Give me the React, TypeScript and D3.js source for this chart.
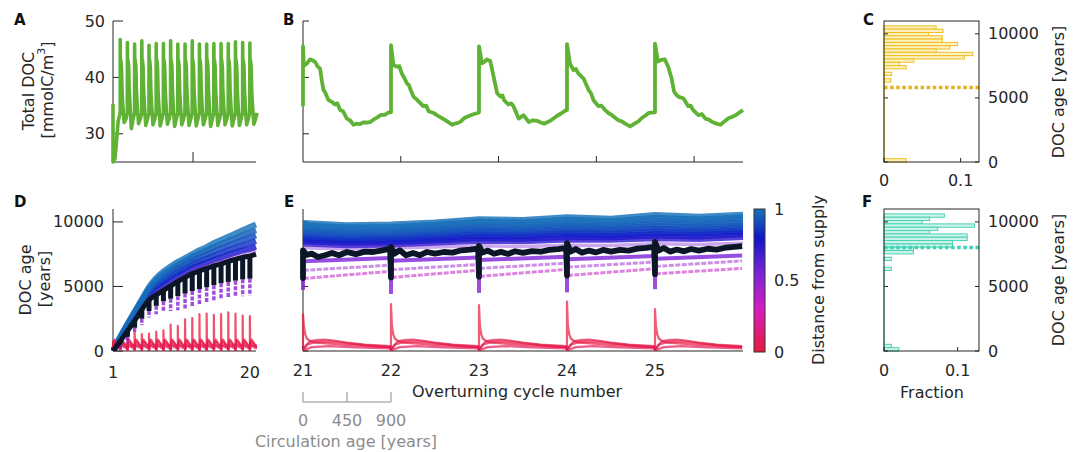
import React from "react";
import * as d3 from "d3";

type Pt = [number, number];

// ---------------- data ----------------
const CYCLE_YEARS = 900;

// Panel A : total DOC, spin-up cycles 1-20 (years)
const A_SPINUP_YEARS = [0, 0, 250, 650, 900];
const A_SPINUP_DOC = [35.3, 25.0, 25.6, 32.3, 33.7];
const A_PEAKS = [46.7, 46.2, 45.9, 46.5, 45.7, 46.0, 46.0, 46.5, 45.9, 45.9, 46.5, 45.9, 45.9, 46.0, 46.0, 46.0, 46.3, 46.2, 46.1];
const A_TROUGHS = [32.0, 30.9, 31.8, 31.5, 31.6, 31.4, 31.7, 31.3, 31.6, 31.5, 31.4, 31.6, 31.3, 31.5, 31.6, 31.4, 31.5, 31.6, 31.7];
const CYCLE_PHASE = [0.02, 0.08, 0.18, 0.25, 0.35, 0.55, 0.78, 0.99];
const CYCLE_DOC = [42.0, 43.1, 41.8, 37.8, 35.3, 31.6, 32.6, 33.7];
const TROUGH_INDEX = 5;

// Panel B : total DOC, cycles 21-25 (years since cycle 21)
const B_YEARS = [
  0, 0, 8, 37, 72, 103, 130, 147, 175, 192, 209, 225, 240, 260, 280, 300, 328, 350, 380, 410, 448, 480, 517, 545, 580, 615, 654, 690, 720, 760, 790, 840, 876,
  900, 900, 925, 960, 985, 1010, 1030, 1065, 1085, 1100, 1130, 1155, 1180, 1230, 1260, 1285, 1335, 1360, 1390, 1430, 1475, 1525, 1550, 1580, 1615, 1650, 1715, 1750, 1785,
  1800, 1800, 1830, 1860, 1880, 1915, 1950, 1985, 2020, 2040, 2055, 2100, 2130, 2155, 2205, 2230, 2255, 2310, 2350, 2395, 2430, 2465, 2530, 2600, 2640, 2690,
  2700, 2700, 2730, 2765, 2790, 2815, 2870, 2920, 2945, 2970, 3020, 3050, 3090, 3130, 3160, 3225, 3260, 3295, 3345, 3400, 3430, 3465, 3500, 3535, 3595,
  3600, 3600, 3630, 3665, 3700, 3735, 3770, 3795, 3820, 3850, 3890, 3940, 3965, 3990, 4045, 4080, 4115, 4150, 4185, 4230, 4270, 4310, 4355, 4390, 4425, 4465, 4500,
];
const B_DOC = [
  34.9, 45.5, 42.0, 42.4, 43.2, 43.0, 42.6, 42.0, 41.5, 39.5, 37.8, 37.4, 36.8, 36.0, 35.8, 35.6, 35.2, 35.4, 34.2, 34.0, 32.7, 32.4, 31.6, 31.8, 31.7, 32.0, 32.0, 32.1, 32.5, 32.9, 33.3, 33.4, 33.8,
  33.8, 45.7, 42.2, 41.9, 42.0, 40.7, 40.1, 38.9, 38.6, 37.8, 36.6, 36.2, 35.8, 34.9, 35.0, 34.0, 33.7, 33.4, 33.1, 32.7, 32.2, 31.6, 31.8, 31.9, 32.2, 32.8, 33.3, 33.5, 33.7,
  33.8, 45.5, 42.5, 42.8, 43.2, 42.9, 40.1, 37.2, 36.6, 36.8, 36.0, 35.2, 35.4, 34.8, 32.7, 33.0, 33.3, 32.1, 32.4, 32.3, 32.0, 31.8, 32.3, 33.2, 33.6, 34.2,
  34.2, 45.9, 42.5, 41.3, 41.5, 40.7, 39.8, 37.8, 37.2, 36.0, 34.9, 35.0, 34.2, 33.6, 33.3, 32.4, 32.2, 31.8, 31.3, 31.9, 32.2, 32.8, 33.2, 33.7, 33.8,
  33.8, 46.0, 42.8, 43.1, 43.2, 41.9, 39.8, 37.5, 36.9, 36.5, 36.3, 34.9, 35.0, 34.2, 33.3, 33.5, 32.7, 32.5, 32.1, 31.8, 31.6, 32.2, 32.8, 33.0, 33.3, 33.8, 34.2,
];

// Panels C and F : histograms of DOC age (bin lower edge, fraction)
const BIN_WIDTH = 258;
const C_BIN_LOW = [10362, 10104, 9846, 9588, 9330, 9072, 8814, 8556, 8298, 8040, 7782, 7524, 7266, 6750, 6234, 0];
const C_FRACTION = [0.068, 0.077, 0.058, 0.076, 0.076, 0.096, 0.086, 0.068, 0.116, 0.105, 0.039, 0.020, 0.029, 0.010, 0.009, 0.029];
const C_MEAN_AGE = 5820;
const F_BIN_LOW = [10362, 10104, 9846, 9588, 9330, 9072, 8814, 8556, 8298, 8040, 7782, 7524, 7008, 6234, 258, 0];
const F_FRACTION = [0.082, 0.062, 0.052, 0.123, 0.073, 0.062, 0.113, 0.113, 0.093, 0.093, 0.040, 0.040, 0.010, 0.010, 0.010, 0.020];
const F_MEAN_AGE = 8010;

// Panel D : DOC age during spin-up (cycle number)
const D_N = [1, 2, 3, 4, 5, 6, 7, 8, 9, 10, 11, 12, 13, 14, 15, 16, 17, 18, 19, 20, 20.85];
const D_AGE_D100 = [0, 1100, 2100, 3050, 4000, 4950, 5650, 6150, 6550, 6900, 7200, 7500, 7800, 8050, 8350, 8600, 8850, 9100, 9350, 9600, 9800];
const D_AGE_D093 = [0, 1060, 2050, 2970, 3920, 4820, 5460, 5940, 6320, 6680, 6980, 7280, 7540, 7780, 8050, 8280, 8520, 8740, 8960, 9180, 9360];
const D_AGE_D085 = [0, 1010, 1960, 2860, 3780, 4640, 5220, 5660, 6040, 6400, 6700, 7000, 7250, 7480, 7730, 7950, 8170, 8380, 8590, 8770, 8950];
const D_AGE_D076 = [0, 950, 1870, 2730, 3630, 4460, 4980, 5390, 5760, 6110, 6420, 6720, 6950, 7170, 7400, 7600, 7810, 8000, 8190, 8350, 8520];
const D_AGE_D065 = [0, 890, 1770, 2610, 3480, 4270, 4740, 5120, 5480, 5830, 6130, 6430, 6650, 6860, 7070, 7240, 7450, 7620, 7790, 7920, 8080];
const D_AGE_D052 = [0, 840, 1690, 2510, 3370, 4130, 4560, 4920, 5270, 5620, 5920, 6220, 6430, 6640, 6840, 7000, 7200, 7360, 7520, 7630, 7780];
const D_BLACK_TOP = [0, 750, 1550, 2350, 3200, 3950, 4350, 4700, 5050, 5400, 5700, 6000, 6200, 6400, 6600, 6750, 6950, 7100, 7250, 7350, 7500];
const D_DROP_N = [2, 3, 4, 5, 6, 7, 8, 9, 10, 11, 12, 13, 14, 15, 16, 17, 18, 19, 20];
const D_BLACK_LOW = [500, 1100, 1800, 2500, 3100, 3500, 3850, 4050, 4250, 4450, 4650, 4800, 4950, 5100, 5250, 5350, 5450, 5550, 5600];
const D_PURPLE_LOW = [200, 600, 1450, 2000, 2600, 2850, 3000, 3100, 3150, 3300, 3450, 3600, 3750, 3900, 4000, 4100, 4200, 4250, 4300];
const D_RED_N = [1, 2, 3, 4, 5, 6, 7, 8, 9, 10, 11, 12, 13, 14, 15, 16, 17, 18, 19, 20];
const D_RED_PEAK = [0, 700, 1200, 1500, 1300, 1350, 1500, 1600, 2050, 1950, 2450, 2550, 2850, 2900, 2800, 2850, 3000, 2900, 2750, 2700];

// Panel E : DOC age in cycles 21-26
const E_X = [21, 21.5, 22, 22.5, 23, 23.5, 24, 24.5, 25, 25.5, 26];
const E_AGE_D100 = [9960, 9780, 9830, 10000, 10250, 10180, 10400, 10280, 10580, 10430, 10600];
const E_AGE_D097 = [9780, 9600, 9650, 9820, 10050, 9990, 10200, 10090, 10370, 10230, 10400];
const E_AGE_D094 = [9590, 9420, 9470, 9640, 9860, 9800, 10000, 9900, 10160, 10030, 10200];
const E_AGE_D091 = [9400, 9240, 9290, 9450, 9660, 9610, 9800, 9710, 9950, 9830, 10000];
const E_AGE_D088 = [9210, 9060, 9110, 9270, 9470, 9420, 9600, 9520, 9740, 9630, 9800];
const E_AGE_D084 = [9030, 8880, 8930, 9080, 9270, 9230, 9400, 9330, 9530, 9430, 9600];
const E_AGE_D080 = [8840, 8700, 8750, 8900, 9080, 9040, 9200, 9140, 9320, 9240, 9400];
const E_AGE_D075 = [8650, 8520, 8570, 8720, 8880, 8850, 9000, 8950, 9110, 9040, 9200];
const E_AGE_D068 = [8460, 8340, 8390, 8530, 8690, 8660, 8800, 8760, 8900, 8840, 9000];
const E_AGE_D060 = [8280, 8160, 8210, 8350, 8500, 8470, 8600, 8570, 8690, 8640, 8800];
const E_AGE_D052 = [8000, 7900, 7980, 8050, 8150, 8100, 8200, 8180, 8300, 8250, 8350];
const E_CYCLES = [21, 22, 23, 24, 25];
const E_PH = [0, 0.04, 0.1, 0.17, 0.25, 0.33, 0.41, 0.5, 0.6, 0.7, 0.8, 0.9, 0.99];
const E_BLACK_21 = [7800, 7450, 7540, 7280, 7420, 7600, 7420, 7670, 7500, 7700, 7670, 7800, 7930];
const E_BLACK_22 = [8060, 7540, 7800, 7420, 7600, 7420, 7670, 7540, 7670, 7620, 7800, 7850, 7930];
const E_BLACK_23 = [8150, 7620, 7780, 7530, 7680, 7520, 7730, 7600, 7740, 7690, 7840, 7900, 7990];
const E_BLACK_24 = [8350, 7700, 7900, 7620, 7780, 7640, 7830, 7700, 7840, 7780, 7930, 7990, 8060];
const E_BLACK_25 = [8450, 7780, 7980, 7700, 7860, 7720, 7900, 7780, 7920, 7860, 8000, 8060, 8120];
const E_BLACK_DROP = [5650, 5700, 5760, 5850, 5950];
const E_PURPLE_DROP = [4730, 4420, 4500, 4540, 4790];
const E_P1_START = [6950, 7000, 7050, 7100, 7150];
const E_P1_END = [7200, 7250, 7300, 7350, 7400];
const E_P2_START = [6250, 6300, 6400, 6500, 6550];
const E_P2_END = [6650, 6700, 6800, 6890, 6980];
const E_P3_START = [5620, 5700, 5780, 5850, 5980];
const E_P3_END = [6170, 6250, 6320, 6370, 6400];
const E_RED_PEAK = [2860, 3640, 3560, 3820, 3250];

// red (near-supply) line shapes within one cycle
const RED_SPIKE_BASE = 130;
const RED_SPIKE_PH = [0.01, 0.025, 0.045, 0.08, 0.15, 0.3, 0.5, 0.75, 0.99];
const RED_SPIKE_AGE = [2000, 1300, 950, 780, 650, 560, 470, 380, 300];
const RED_SPIKE_D_PH = [0.04, 0.15, 0.5, 0.99];
const RED_SPIKE_D_AGE = [650, 520, 420, 320];
const RED_B_PH = [0, 0.03, 0.08, 0.15, 0.25, 0.35, 0.5, 0.7, 0.99];
const RED_B_AGE = [60, 400, 750, 850, 880, 800, 650, 500, 380];
const RED_C_PH = [0, 0.05, 0.12, 0.2, 0.35, 0.5, 0.7, 0.99];
const RED_C_AGE = [100, 500, 650, 720, 700, 600, 450, 300];
const RED_D_PH = [0, 0.1, 0.3, 0.6, 0.99];
const RED_D_AGE = [40, 300, 380, 280, 200];

// ticks
const DOC_TICKS = [30, 40, 50];
const A_XTICKS = [10000];
const B_XTICKS = [1000, 2000, 3000, 4000];
const AGE_TICKS = [0, 5000, 10000];
const D_XTICKS = [1, 20];
const E_XTICKS = [21, 22, 23, 24, 25];
const FRAC_TICKS = [0, 0.1];
const CBAR_TICKS = [0, 0.5, 1];
const CIRC_TICKS = [0, 450, 900];

// ---------------- drawing ----------------
const W = 1077;
const H = 452;
const INK = "#262626";
const GREEN = "#5fb233";
const BLACKLINE = "#0b1626";

const distColor = d3
  .scaleLinear<string>()
  .domain([0, 0.3, 0.55, 0.8, 0.88, 1])
  .range(["#e8193c", "#d81cc0", "#7c22d8", "#0d18c8", "#1040c0", "#1670b8"])
  .interpolate(d3.interpolateRgb);

function cyc(x0: number, ph: number[], vals: number[]): Pt[] {
  return ph.map((p, j) => [x0 + p, vals[j]] as Pt);
}

export default function App() {
  const xA = d3.scaleLinear().domain([0, 17865]).range([113, 256]);
  const yDoc = d3.scaleLinear().domain([25, 50]).range([162, 21]);
  const xB = d3.scaleLinear().domain([0, 4500]).range([303, 743]);
  const yAgeTop = d3.scaleLinear().domain([0, 11000]).range([162, 21]);
  const xC = d3.scaleLinear().domain([0, 0.124]).range([884, 979]);
  const xD = d3.scaleLinear().domain([1, 20.85]).range([113, 256]);
  const yAge = d3.scaleLinear().domain([0, 11000]).range([351, 209]);
  const xE = d3.scaleLinear().domain([21, 26]).range([303, 743]);
  const xF = d3.scaleLinear().domain([0, 0.129]).range([884, 979]);
  const yCbar = d3.scaleLinear().domain([0, 1]).range([352, 209]);

  const mk = (sx: any, sy: any, curve: any = d3.curveLinear) =>
    d3.line<Pt>().x((d) => sx(d[0])).y((d) => sy(d[1])).curve(curve);

  // A
  const aPts: Pt[] = A_SPINUP_YEARS.map((t, i) => [t, A_SPINUP_DOC[i]] as Pt);
  A_PEAKS.forEach((pk, k) => {
    const t0 = (k + 1) * CYCLE_YEARS;
    aPts.push([t0, pk]);
    CYCLE_PHASE.forEach((ph, j) =>
      aPts.push([t0 + ph * CYCLE_YEARS, j === TROUGH_INDEX ? A_TROUGHS[k] : CYCLE_DOC[j]])
    );
  });
  const bPts: Pt[] = B_YEARS.map((t, i) => [t, B_DOC[i]] as Pt);

  // D
  const lineD = mk(xD, yAge, d3.curveMonotoneX);
  const lineDlin = mk(xD, yAge);
  const dBlue: { d: number; v: number[] }[] = [
    { d: 0.78, v: D_AGE_D065 },
    { d: 0.84, v: D_AGE_D076 },
    { d: 0.9, v: D_AGE_D085 },
    { d: 0.95, v: D_AGE_D093 },
    { d: 1.0, v: D_AGE_D100 },
  ];
  const dRed: Pt[][] = [[], [], [], []];
  D_RED_N.forEach((n, k) => {
    dRed[0].push([n, RED_SPIKE_BASE], [n, D_RED_PEAK[k]], ...cyc(n, RED_SPIKE_D_PH, RED_SPIKE_D_AGE));
    dRed[1].push(...cyc(n, RED_B_PH, RED_B_AGE));
    dRed[2].push(...cyc(n, RED_C_PH, RED_C_AGE));
    dRed[3].push(...cyc(n, RED_D_PH, RED_D_AGE));
  });

  // E
  const lineE = mk(xE, yAge);
  const eBlue: { d: number; v: number[] }[] = [
    { d: 0.72, v: E_AGE_D060 },
    { d: 0.76, v: E_AGE_D068 },
    { d: 0.8, v: E_AGE_D075 },
    { d: 0.84, v: E_AGE_D080 },
    { d: 0.88, v: E_AGE_D084 },
    { d: 0.92, v: E_AGE_D088 },
    { d: 0.95, v: E_AGE_D091 },
    { d: 0.97, v: E_AGE_D094 },
    { d: 0.99, v: E_AGE_D097 },
    { d: 1.0, v: E_AGE_D100 },
  ];
  const eBlackCycles = [E_BLACK_21, E_BLACK_22, E_BLACK_23, E_BLACK_24, E_BLACK_25];
  const eBlack: Pt[] = [[21, E_BLACK_21[0]]];
  E_CYCLES.forEach((c, k) => {
    eBlack.push([c, E_BLACK_DROP[k]]);
    eBlack.push(...cyc(c, E_PH, eBlackCycles[k]));
  });
  const eRed: Pt[][] = [[], [], [], []];
  E_CYCLES.forEach((c, k) => {
    eRed[0].push([c, RED_SPIKE_BASE], [c, E_RED_PEAK[k]], ...cyc(c, RED_SPIKE_PH, RED_SPIKE_AGE));
    eRed[1].push(...cyc(c, RED_B_PH, RED_B_AGE));
    eRed[2].push(...cyc(c, RED_C_PH, RED_C_AGE));
    eRed[3].push(...cyc(c, RED_D_PH, RED_D_AGE));
  });
  const redDist = [0, 0.02, 0.04, 0.07];
  const eSlopes = [
    { d: 0.36, s: E_P3_START, e: E_P3_END, w: 3, o: 0.55, dash: "5 1.5" },
    { d: 0.47, s: E_P2_START, e: E_P2_END, w: 3, o: 0.5, dash: "5 1.5" },
    { d: 0.55, s: E_P1_START, e: E_P1_END, w: 4, o: 0.8, dash: "" },
  ];

  const cbarStops = d3.range(0, 1.0001, 0.05);

  const txt = { fill: INK, fontSize: 16 } as const;
  const axisStroke = { stroke: INK, strokeWidth: 1 } as const;

  const hist = (
    lows: number[],
    fr: number[],
    sx: any,
    sy: any,
    stroke: string,
    fill: string
  ) =>
    lows.map((lo, i) => (
      <rect
        key={i}
        x={sx(0)}
        y={sy(lo + BIN_WIDTH)}
        width={sx(fr[i]) - sx(0)}
        height={sy(lo) - sy(lo + BIN_WIDTH)}
        fill={fill}
        stroke={stroke}
        strokeWidth={1}
      />
    ));

  return (
    <svg
      width={W}
      height={H}
      style={{ position: "absolute", left: 0, top: 0, display: "block", background: "#fff" }}
      fontFamily="'DejaVu Sans', sans-serif"
    >
      <defs>
        <clipPath id="clipD">
          <rect x={111} y={205} width={146} height={146} />
        </clipPath>
        <clipPath id="clipE">
          <rect x={300} y={205} width={444} height={146} />
        </clipPath>
        <linearGradient id="cbar" x1="0" y1="1" x2="0" y2="0">
          {cbarStops.map((s) => (
            <stop key={s} offset={s} stopColor={distColor(s)} />
          ))}
        </linearGradient>
      </defs>

      {/* ---------- Panel A ---------- */}
      <g>
        <line x1={113} x2={113} y1={21} y2={162} {...axisStroke} />
        <line x1={113} x2={256} y1={162} y2={162} {...axisStroke} />
        {DOC_TICKS.map((t) => (
          <g key={t}>
            <line x1={113} x2={123} y1={yDoc(t)} y2={yDoc(t)} {...axisStroke} />
            <text x={105} y={yDoc(t)} textAnchor="end" dominantBaseline="central" {...txt}>
              {t}
            </text>
          </g>
        ))}
        {A_XTICKS.map((t) => (
          <line key={t} x1={xA(t)} x2={xA(t)} y1={162} y2={152} {...axisStroke} />
        ))}
        <path d={mk(xA, yDoc)(aPts) || ""} fill="none" stroke={GREEN} strokeWidth={3.6} strokeLinejoin="round" />
        <text transform="translate(28,91) rotate(-90)" textAnchor="middle" dominantBaseline="central" {...txt}>
          Total DOC
        </text>
        <text transform="translate(47,90) rotate(-90)" textAnchor="middle" dominantBaseline="central" {...txt}>
          [mmolC/m<tspan dy={-6} fontSize={11}>3</tspan>
          <tspan dy={6}>]</tspan>
        </text>
        <text x={14} y={25} fontWeight="bold" fontSize={15} fill="#111">
          A
        </text>
      </g>

      {/* ---------- Panel B ---------- */}
      <g>
        <line x1={303} x2={303} y1={21} y2={162} {...axisStroke} />
        <line x1={303} x2={743} y1={162} y2={162} {...axisStroke} />
        {DOC_TICKS.map((t) => (
          <line key={t} x1={303} x2={309} y1={yDoc(t)} y2={yDoc(t)} {...axisStroke} />
        ))}
        {B_XTICKS.map((t) => (
          <line key={t} x1={xB(t)} x2={xB(t)} y1={162} y2={156} {...axisStroke} />
        ))}
        <path d={mk(xB, yDoc)(bPts) || ""} fill="none" stroke={GREEN} strokeWidth={3.8} strokeLinejoin="round" />
        <text x={283} y={25} fontWeight="bold" fontSize={15} fill="#111">
          B
        </text>
      </g>

      {/* ---------- Panel C ---------- */}
      <g>
        {hist(C_BIN_LOW, C_FRACTION, xC, yAgeTop, "#f0bf1c", "#fdf1c2")}
        <line x1={xC(0)} x2={xC(0)} y1={yAgeTop(BIN_WIDTH)} y2={yAgeTop(7266)} stroke="#f0bf1c" strokeWidth={1.2} />
        <line
          x1={xC(0)}
          x2={xC(0.124)}
          y1={yAgeTop(C_MEAN_AGE)}
          y2={yAgeTop(C_MEAN_AGE)}
          stroke="#e6b21c"
          strokeWidth={3.5}
          strokeDasharray="3.5 2.6"
        />
        <rect x={884} y={21} width={95} height={141} fill="none" {...axisStroke} />
        {AGE_TICKS.map((t) => (
          <g key={t}>
            <line x1={979} x2={975} y1={yAgeTop(t)} y2={yAgeTop(t)} {...axisStroke} />
            <line x1={884} x2={888} y1={yAgeTop(t)} y2={yAgeTop(t)} {...axisStroke} />
            <text x={988} y={yAgeTop(t)} dominantBaseline="central" {...txt}>
              {t}
            </text>
          </g>
        ))}
        {FRAC_TICKS.map((t) => (
          <g key={t}>
            <line x1={xC(t)} x2={xC(t)} y1={162} y2={158} {...axisStroke} />
            <text x={xC(t)} y={180} textAnchor="middle" dominantBaseline="central" {...txt}>
              {t}
            </text>
          </g>
        ))}
        <text transform="translate(1058,92) rotate(-90)" textAnchor="middle" dominantBaseline="central" {...txt}>
          DOC age [years]
        </text>
        <text x={863} y={25} fontWeight="bold" fontSize={15} fill="#111">
          C
        </text>
      </g>

      {/* ---------- Panel D ---------- */}
      <g>
        <line x1={113} x2={113} y1={209} y2={351} {...axisStroke} />
        <line x1={113} x2={256} y1={351} y2={351} {...axisStroke} />
        {AGE_TICKS.map((t) => (
          <g key={t}>
            <line x1={113} x2={123} y1={yAge(t)} y2={yAge(t)} {...axisStroke} />
            <text x={104} y={yAge(t)} textAnchor="end" dominantBaseline="central" {...txt}>
              {t}
            </text>
          </g>
        ))}
        {D_XTICKS.map((t) => (
          <g key={t}>
            <line x1={xD(t)} x2={xD(t)} y1={351} y2={341} {...axisStroke} />
            <text x={xD(t)} y={372} textAnchor="middle" dominantBaseline="central" {...txt}>
              {t}
            </text>
          </g>
        ))}
        <g clipPath="url(#clipD)">
          {dBlue.map((l) => (
            <path
              key={l.d}
              d={lineD(D_N.map((n, i) => [n, l.v[i]] as Pt)) || ""}
              fill="none"
              stroke={distColor(l.d)}
              strokeOpacity={0.82}
              strokeWidth={6}
            />
          ))}
          <path
            d={lineD(D_N.map((n, i) => [n, D_AGE_D052[i]] as Pt)) || ""}
            fill="none"
            stroke={distColor(0.55)}
            strokeOpacity={0.4}
            strokeWidth={3}
          />
          {dRed.map((pts, i) => (
            <path
              key={i}
              d={lineDlin(pts) || ""}
              fill="none"
              stroke={distColor(redDist[i])}
              strokeOpacity={0.75}
              strokeWidth={2.2}
              strokeLinejoin="round"
            />
          ))}
          {D_DROP_N.map((n, i) => (
            <line
              key={n}
              x1={xD(n)}
              x2={xD(n)}
              y1={yAge(D_BLACK_LOW[i])}
              y2={yAge(D_PURPLE_LOW[i])}
              stroke={distColor(0.52)}
              strokeOpacity={0.8}
              strokeWidth={3.5}
              strokeDasharray="4 1.5"
            />
          ))}
          <path
            d={lineD(D_N.map((n, i) => [n, D_BLACK_TOP[i]] as Pt)) || ""}
            fill="none"
            stroke={BLACKLINE}
            strokeWidth={5}
          />
          {D_DROP_N.map((n, i) => (
            <line
              key={n}
              x1={xD(n)}
              x2={xD(n)}
              y1={yAge(D_BLACK_TOP[D_N.indexOf(n)])}
              y2={yAge(D_BLACK_LOW[i])}
              stroke={BLACKLINE}
              strokeWidth={5}
            />
          ))}
        </g>
        <text transform="translate(25,280) rotate(-90)" textAnchor="middle" dominantBaseline="central" {...txt}>
          DOC age
        </text>
        <text transform="translate(44,279) rotate(-90)" textAnchor="middle" dominantBaseline="central" {...txt}>
          [years]
        </text>
        <text x={14} y={207} fontWeight="bold" fontSize={15} fill="#111">
          D
        </text>
      </g>

      {/* ---------- Panel E ---------- */}
      <g>
        <line x1={303} x2={303} y1={209} y2={351} {...axisStroke} />
        <line x1={303} x2={743} y1={351} y2={351} {...axisStroke} />
        {AGE_TICKS.map((t) => (
          <line key={t} x1={303} x2={308} y1={yAge(t)} y2={yAge(t)} {...axisStroke} />
        ))}
        {E_XTICKS.map((t) => (
          <g key={t}>
            <line x1={xE(t)} x2={xE(t)} y1={351} y2={346} {...axisStroke} />
            <text x={xE(t)} y={370} textAnchor="middle" dominantBaseline="central" {...txt}>
              {t}
            </text>
          </g>
        ))}
        <g clipPath="url(#clipE)">
          {eBlue.map((l) => (
            <path
              key={l.d}
              d={lineE(E_X.map((x, i) => [x, l.v[i]] as Pt)) || ""}
              fill="none"
              stroke={distColor(l.d)}
              strokeOpacity={0.82}
              strokeWidth={5}
            />
          ))}
          <path
            d={lineE(E_X.map((x, i) => [x, E_AGE_D052[i]] as Pt)) || ""}
            fill="none"
            stroke={distColor(0.55)}
            strokeOpacity={0.4}
            strokeWidth={3.5}
          />
          {eRed.map((pts, i) => (
            <path
              key={i}
              d={lineE(pts) || ""}
              fill="none"
              stroke={distColor(redDist[i])}
              strokeOpacity={0.7}
              strokeWidth={2.2}
              strokeLinejoin="round"
            />
          ))}
          {eSlopes.map((s) =>
            E_CYCLES.map((c, k) => (
              <line
                key={`${s.d}-${c}`}
                x1={xE(c + 0.01)}
                x2={xE(c + 0.99)}
                y1={yAge(s.s[k])}
                y2={yAge(s.e[k])}
                stroke={distColor(s.d)}
                strokeOpacity={s.o}
                strokeWidth={s.w}
                strokeDasharray={s.dash || undefined}
              />
            ))
          )}
          {E_CYCLES.map((c, k) => (
            <line
              key={c}
              x1={xE(c)}
              x2={xE(c)}
              y1={yAge(E_BLACK_DROP[k])}
              y2={yAge(E_PURPLE_DROP[k])}
              stroke={distColor(0.52)}
              strokeOpacity={0.8}
              strokeWidth={4}
            />
          ))}
          <path d={lineE(eBlack) || ""} fill="none" stroke={BLACKLINE} strokeWidth={5.8} strokeLinejoin="round" />
        </g>
        <text x={284} y={207} fontWeight="bold" fontSize={15} fill="#111">
          E
        </text>
        <text x={412} y={391} dominantBaseline="central" {...txt}>
          Overturning cycle number
        </text>
        {/* circulation age scale */}
        <line x1={xE(21)} x2={xE(22)} y1={402} y2={402} stroke="#8c8c8c" strokeWidth={1} />
        {CIRC_TICKS.map((t) => (
          <g key={t}>
            <line
              x1={xE(21 + t / CYCLE_YEARS)}
              x2={xE(21 + t / CYCLE_YEARS)}
              y1={402}
              y2={392}
              stroke="#8c8c8c"
              strokeWidth={1}
            />
            <text
              x={xE(21 + t / CYCLE_YEARS)}
              y={420}
              textAnchor="middle"
              dominantBaseline="central"
              fill="#8c8c8c"
              fontSize={16}
            >
              {t}
            </text>
          </g>
        ))}
        <text x={346} y={441} textAnchor="middle" dominantBaseline="central" fill="#8c8c8c" fontSize={16}>
          Circulation age [years]
        </text>
      </g>

      {/* ---------- colour bar ---------- */}
      <g>
        <rect x={754} y={209} width={11} height={143} fill="url(#cbar)" stroke="#333" strokeWidth={1} />
        {CBAR_TICKS.map((t) => (
          <text key={t} x={774} y={yCbar(t)} dominantBaseline="central" {...txt}>
            {t}
          </text>
        ))}
        <text transform="translate(818,280) rotate(-90)" textAnchor="middle" dominantBaseline="central" {...txt}>
          Distance from supply
        </text>
      </g>

      {/* ---------- Panel F ---------- */}
      <g>
        {hist(F_BIN_LOW, F_FRACTION, xF, yAge, "#48d2b4", "#cdf4eb")}
        <line x1={xF(0)} x2={xF(0)} y1={yAge(2 * BIN_WIDTH)} y2={yAge(6234)} stroke="#48d2b4" strokeWidth={1.2} />
        <line
          x1={xF(0)}
          x2={xF(0.129)}
          y1={yAge(F_MEAN_AGE)}
          y2={yAge(F_MEAN_AGE)}
          stroke="#3ad5b6"
          strokeWidth={3.5}
          strokeDasharray="3.5 2.6"
        />
        <rect x={884} y={209} width={95} height={142} fill="none" {...axisStroke} />
        {AGE_TICKS.map((t) => (
          <g key={t}>
            <line x1={979} x2={975} y1={yAge(t)} y2={yAge(t)} {...axisStroke} />
            <line x1={884} x2={888} y1={yAge(t)} y2={yAge(t)} {...axisStroke} />
            <text x={988} y={yAge(t)} dominantBaseline="central" {...txt}>
              {t}
            </text>
          </g>
        ))}
        {FRAC_TICKS.map((t) => (
          <g key={t}>
            <line x1={xF(t)} x2={xF(t)} y1={351} y2={347} {...axisStroke} />
            <text x={xF(t)} y={370} textAnchor="middle" dominantBaseline="central" {...txt}>
              {t}
            </text>
          </g>
        ))}
        <text x={932} y={392} textAnchor="middle" dominantBaseline="central" {...txt}>
          Fraction
        </text>
        <text transform="translate(1058,280) rotate(-90)" textAnchor="middle" dominantBaseline="central" {...txt}>
          DOC age [years]
        </text>
        <text x={862} y={207} fontWeight="bold" fontSize={15} fill="#111">
          F
        </text>
      </g>
    </svg>
  );
}
